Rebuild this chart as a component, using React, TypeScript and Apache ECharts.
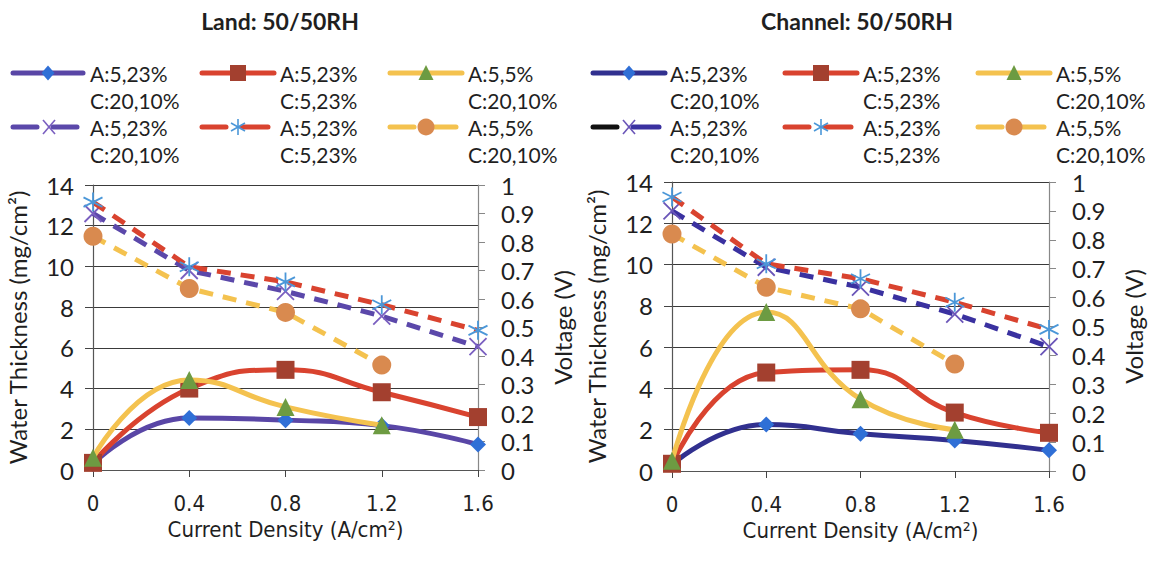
import React, { useEffect, useRef } from "react";
import * as echarts from "echarts";

// ---------------- DATA ----------------
const categories = ["0", "0.4", "0.8", "1.2", "1.6"];
const thicknessTicks = ["0", "2", "4", "6", "8", "10", "12", "14"];
const voltageTicks = ["0", "0.1", "0.2", "0.3", "0.4", "0.5", "0.6", "0.7", "0.8", "0.9", "1"];

const chartTitles = ["Land: 50/50RH", "Channel: 50/50RH"];
const legendLine1 = ["A:5,23%", "A:5,23%", "A:5,5%", "A:5,23%", "A:5,23%", "A:5,5%"];
const legendLine2 = ["C:20,10%", "C:5,23%", "C:20,10%", "C:20,10%", "C:5,23%", "C:20,10%"];

// Land (water thickness, mg/cm2)
const landBlueThickness = [0.3, 2.55, 2.45, 2.18, 1.25];
const landRedThickness = [0.35, 4.0, 4.92, 3.82, 2.6];
const landYellowThickness = [0.6, 4.42, 3.1, 2.2];
// Land (voltage, V)
const landPurpleVoltage = [0.9, 0.7, 0.627, 0.54, 0.433];
const landRedVoltage = [0.94, 0.713, 0.66, 0.58, 0.49];
const landYellowVoltage = [0.82, 0.637, 0.553, 0.368];

// Channel (water thickness, mg/cm2)
const channelBlueThickness = [0.3, 2.25, 1.8, 1.48, 1.0];
const channelRedThickness = [0.35, 4.77, 4.9, 2.83, 1.85];
const channelYellowThickness = [0.5, 7.7, 3.48, 2.0];
// Channel (voltage, V)
const channelPurpleVoltage = [0.9, 0.705, 0.636, 0.543, 0.43];
const channelRedVoltage = [0.948, 0.717, 0.665, 0.584, 0.49];
const channelYellowVoltage = [0.82, 0.636, 0.561, 0.37];

// ---------------- STYLE ----------------
const FONT = "Lato, 'Noto Sans', sans-serif";
const NARROW = "'Liberation Sans Narrow', 'DejaVu Sans Condensed', Lato, sans-serif";
const TEXT = "#1f1f1f";

const X_PATH = "path://M0,0L10,10M10,0L0,10";
const STAR_PATH = "path://M5,0L5,10M0.7,2.5L9.3,7.5M0.7,7.5L9.3,2.5";

type Spec = {
  data: number[];
  axis: number; // 0 thickness, 1 voltage
  line: string;
  dashed: boolean;
  marker: string; // diamond rect triangle circle x star
  markerColor: string;
  size: number;
  leftDash?: string;
};

const charts: { specs: Spec[]; grid: { left: number; top: number; width: number; height: number }; legendX0: number[]; legendX1: number[]; textX: number[]; titleX: number }[] = [
  {
    specs: [
      { data: landBlueThickness, axis: 0, line: "#5946a6", dashed: false, marker: "diamond", markerColor: "#2f6fd6", size: 16 },
      { data: landRedThickness, axis: 0, line: "#d9432f", dashed: false, marker: "rect", markerColor: "#a3402f", size: 18 },
      { data: landYellowThickness, axis: 0, line: "#f4c24f", dashed: false, marker: "triangle", markerColor: "#6d9b42", size: 18 },
      { data: landPurpleVoltage, axis: 1, line: "#5b48aa", dashed: true, marker: "x", markerColor: "#7a5fc0", size: 17 },
      { data: landRedVoltage, axis: 1, line: "#d9432f", dashed: true, marker: "star", markerColor: "#4b97d8", size: 19 },
      { data: landYellowVoltage, axis: 1, line: "#f4c24f", dashed: true, marker: "circle", markerColor: "#d98a4f", size: 19 },
    ],
    grid: { left: 93, top: 185, width: 385, height: 285 },
    legendX0: [13, 202, 390],
    legendX1: [83, 274, 462],
    textX: [90, 280, 468],
    titleX: 275,
  },
  {
    specs: [
      { data: channelBlueThickness, axis: 0, line: "#31308f", dashed: false, marker: "diamond", markerColor: "#2f6fd6", size: 16 },
      { data: channelRedThickness, axis: 0, line: "#d9432f", dashed: false, marker: "rect", markerColor: "#a3402f", size: 18 },
      { data: channelYellowThickness, axis: 0, line: "#f4c24f", dashed: false, marker: "triangle", markerColor: "#6d9b42", size: 18 },
      { data: channelPurpleVoltage, axis: 1, line: "#3a31a0", dashed: true, marker: "x", markerColor: "#6a55b8", size: 17, leftDash: "#111111" },
      { data: channelRedVoltage, axis: 1, line: "#d9432f", dashed: true, marker: "star", markerColor: "#4b97d8", size: 19 },
      { data: channelYellowVoltage, axis: 1, line: "#f4c24f", dashed: true, marker: "circle", markerColor: "#d98a4f", size: 19 },
    ],
    grid: { left: 672, top: 182, width: 377, height: 289 },
    legendX0: [593, 785, 978],
    legendX1: [665, 857, 1050],
    textX: [670, 863, 1056],
    titleX: 852,
  },
];

const legendRowY = [73, 127];

function seriesSymbol(m: string) {
  if (m === "x") return X_PATH;
  if (m === "star") return STAR_PATH;
  return m;
}

function markerGraphic(m: string, cx: number, cy: number, color: string): any[] {
  switch (m) {
    case "diamond":
      return [{ type: "polygon", shape: { points: [[cx, cy - 7.5], [cx + 6.5, cy], [cx, cy + 7.5], [cx - 6.5, cy]] }, style: { fill: color }, z: 10 }];
    case "rect":
      return [{ type: "rect", shape: { x: cx - 8, y: cy - 8, width: 16, height: 16 }, style: { fill: color }, z: 10 }];
    case "triangle":
      return [{ type: "polygon", shape: { points: [[cx, cy - 8], [cx + 7.5, cy + 7], [cx - 7.5, cy + 7]] }, style: { fill: color }, z: 10 }];
    case "circle":
      return [{ type: "circle", shape: { cx, cy, r: 8.5 }, style: { fill: color }, z: 10 }];
    case "x":
      return [
        { type: "line", shape: { x1: cx - 6, y1: cy - 7, x2: cx + 6, y2: cy + 7 }, style: { stroke: color, lineWidth: 1.6 }, z: 10 },
        { type: "line", shape: { x1: cx + 6, y1: cy - 7, x2: cx - 6, y2: cy + 7 }, style: { stroke: color, lineWidth: 1.6 }, z: 10 },
      ];
    case "star":
      return [
        { type: "line", shape: { x1: cx, y1: cy - 8, x2: cx, y2: cy + 8 }, style: { stroke: color, lineWidth: 1.6 }, z: 10 },
        { type: "line", shape: { x1: cx - 7, y1: cy - 4, x2: cx + 7, y2: cy + 4 }, style: { stroke: color, lineWidth: 1.6 }, z: 10 },
        { type: "line", shape: { x1: cx - 7, y1: cy + 4, x2: cx + 7, y2: cy - 4 }, style: { stroke: color, lineWidth: 1.6 }, z: 10 },
      ];
  }
  return [];
}

function buildOption() {
  const grid: any[] = [];
  const xAxis: any[] = [];
  const yAxis: any[] = [];
  const series: any[] = [];
  const graphic: any[] = [];
  const title: any[] = [];

  charts.forEach((c, ci) => {
    grid.push({ ...c.grid, containLabel: false });
    title.push({
      text: chartTitles[ci],
      left: c.titleX,
      top: 4,
      textAlign: "center",
      textStyle: { fontFamily: FONT, fontWeight: "bold", fontSize: 23, color: TEXT },
    });
    xAxis.push({
      type: "category",
      gridIndex: ci,
      data: categories,
      boundaryGap: false,
      axisLine: { lineStyle: { color: "#555", width: 1.2 } },
      axisTick: { show: true, length: 7, lineStyle: { color: "#444" } },
      axisLabel: { fontFamily: NARROW, fontSize: 22, color: TEXT, margin: 22 },
      splitLine: { show: false },
      name: "Current Density (A/cm²)",
      nameLocation: "middle",
      nameGap: 46,
      nameTextStyle: { fontFamily: NARROW, fontSize: 22, color: TEXT },
    });
    yAxis.push({
      type: "value",
      gridIndex: ci,
      min: 0,
      max: 14,
      interval: 2,
      axisLine: { show: true, lineStyle: { color: "#555", width: 1.2 } },
      axisTick: { show: true, length: 8, lineStyle: { color: "#444" } },
      axisLabel: {
        fontFamily: FONT, fontSize: 24, color: TEXT, margin: 19,
        formatter: (v: number) => thicknessTicks[Math.round(v / 2)],
      },
      splitLine: { show: true, lineStyle: { color: "#3a3a3a", width: 1.2 } },
      name: "Water Thickness (mg/cm²)",
      nameLocation: "middle",
      nameRotate: 90,
      nameGap: 64,
      nameTextStyle: { fontFamily: FONT, fontSize: 24, color: TEXT },
    });
    yAxis.push({
      type: "value",
      gridIndex: ci,
      position: "right",
      min: 0,
      max: 1,
      interval: 0.1,
      axisLine: { show: true, lineStyle: { color: "#888", width: 1.2 } },
      axisTick: { show: true, length: 7, lineStyle: { color: "#888" } },
      axisLabel: {
        fontFamily: FONT, fontSize: 24, color: TEXT, margin: 23,
        formatter: (v: number) => voltageTicks[Math.round(v * 10)],
      },
      splitLine: { show: false },
      name: "Voltage (V)",
      nameLocation: "middle",
      nameRotate: 90,
      nameGap: 72,
      nameTextStyle: { fontFamily: FONT, fontSize: 24, color: TEXT },
    });

    const pathMarker = (m: string) => m === "x" || m === "star";
    c.specs.forEach((s, si) => {
      series.push({
        type: "line",
        name: legendLine1[si] + " " + legendLine2[si],
        xAxisIndex: ci,
        yAxisIndex: ci * 2 + s.axis,
        data: s.data,
        smooth: s.dashed ? false : 0.5,
        symbol: seriesSymbol(s.marker),
        symbolSize: s.size,
        showSymbol: true,
        lineStyle: {
          color: s.line,
          width: 5,
          type: s.dashed ? [14, 10] : "solid",
          cap: "butt",
        },
        itemStyle: pathMarker(s.marker)
          ? { color: "rgba(0,0,0,0)", borderColor: s.markerColor, borderWidth: 1.8 }
          : { color: s.markerColor, borderWidth: 0 },
        emphasis: { disabled: true },
        z: 2 + si,
      });

      // legend item (drawn manually)
      const col = si % 3;
      const row = Math.floor(si / 3);
      const y = legendRowY[row];
      const x0 = c.legendX0[col];
      const x1 = c.legendX1[col];
      if (!s.dashed) {
        graphic.push({ type: "line", shape: { x1: x0, y1: y, x2: x1, y2: y }, style: { stroke: s.line, lineWidth: 5, lineCap: "round" }, z: 5 });
        graphic.push(...markerGraphic(s.marker, (x0 + x1) / 2, y, s.markerColor));
      } else {
        graphic.push({ type: "line", shape: { x1: x0, y1: y, x2: x0 + 24, y2: y }, style: { stroke: s.leftDash || s.line, lineWidth: 5, lineCap: "round" }, z: 5 });
        graphic.push({ type: "line", shape: { x1: x0 + 40, y1: y, x2: x1 - 6, y2: y }, style: { stroke: s.line, lineWidth: 5, lineCap: "round" }, z: 5 });
        graphic.push(...markerGraphic(s.marker, x0 + 36, y, s.markerColor));
      }
      graphic.push({
        type: "text",
        x: c.textX[col],
        y: y - 13.5,
        style: {
          text: legendLine1[si] + "\n" + legendLine2[si],
          fontFamily: FONT,
          fontSize: 21,
          lineHeight: 27,
          fill: TEXT,
          verticalAlign: "top",
          align: "left",
        },
        z: 5,
      });
    });
  });

  return { animation: false, backgroundColor: "#ffffff", title, grid, xAxis, yAxis, series, graphic };
}

export default function App() {
  const ref = useRef<HTMLDivElement>(null);
  useEffect(() => {
    if (!ref.current) return;
    const chart = echarts.init(ref.current, undefined, { renderer: "svg" });
    chart.setOption(buildOption() as any);
    return () => chart.dispose();
  }, []);
  return (
    <div
      ref={ref}
      style={{ position: "absolute", left: 0, top: 0, width: 1152, height: 566, background: "#fff" }}
    />
  );
}
